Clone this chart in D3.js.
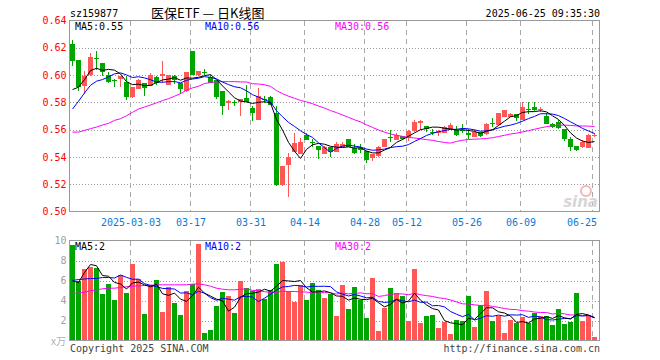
<!DOCTYPE html>
<html><head><meta charset="utf-8">
<script src="https://cdn.jsdelivr.net/npm/d3@7/dist/d3.min.js"></script>
<style>
body{margin:0;background:#fff;}
svg{display:block;}
</style></head><body>
<svg id="c" width="660" height="360"></svg>
<script>
// ---------- data ----------
const dates = [
"2025-02-17","2025-02-18","2025-02-19","2025-02-20","2025-02-21","2025-02-24","2025-02-25","2025-02-26","2025-02-27","2025-02-28",
"2025-03-03","2025-03-04","2025-03-05","2025-03-06","2025-03-07","2025-03-10","2025-03-11","2025-03-12","2025-03-13","2025-03-14",
"2025-03-17","2025-03-18","2025-03-19","2025-03-20","2025-03-21","2025-03-24","2025-03-25","2025-03-26","2025-03-27","2025-03-28",
"2025-03-31","2025-04-01","2025-04-02","2025-04-03","2025-04-07","2025-04-08","2025-04-09","2025-04-10","2025-04-11","2025-04-14",
"2025-04-15","2025-04-16","2025-04-17","2025-04-18","2025-04-21","2025-04-22","2025-04-23","2025-04-24","2025-04-25","2025-04-28",
"2025-04-29","2025-04-30","2025-05-06","2025-05-07","2025-05-08","2025-05-09","2025-05-12","2025-05-13","2025-05-14","2025-05-15",
"2025-05-16","2025-05-19","2025-05-20","2025-05-21","2025-05-22","2025-05-23","2025-05-26","2025-05-27","2025-05-28","2025-05-29",
"2025-05-30","2025-06-03","2025-06-04","2025-06-05","2025-06-06","2025-06-09","2025-06-10","2025-06-11","2025-06-12","2025-06-13",
"2025-06-16","2025-06-17","2025-06-18","2025-06-19","2025-06-20","2025-06-23","2025-06-24","2025-06-25"];

const open = [
0.623,0.611,0.592,0.600,0.6125,0.609,0.600,0.5963,0.597,0.595,
0.584,0.590,0.594,0.592,0.5987,0.5992,0.593,0.5992,0.5943,0.5886,
0.6173,0.600,0.6022,0.5984,0.5967,0.5886,0.5795,0.5805,0.5803,0.5832,
0.5759,0.5668,0.5828,0.5837,0.5722,0.5195,0.5342,0.5435,0.5423,0.5560,
0.5510,0.5482,0.5425,0.5473,0.5436,0.5472,0.5533,0.5465,0.5465,0.5445,
0.5391,0.5404,0.5475,0.5547,0.5526,0.5555,0.5540,0.5587,0.5649,0.5627,
0.5582,0.5575,0.5578,0.5608,0.5600,0.5600,0.5573,0.5548,0.5585,0.5565,
0.5651,0.5635,0.5695,0.5694,0.5715,0.5672,0.5750,0.5767,0.5747,0.5699,
0.5641,0.5656,0.5603,0.5530,0.5481,0.5474,0.5464,0.5558];
const high = [
0.626,0.611,0.603,0.616,0.618,0.609,0.602,0.597,0.5995,0.5995,
0.591,0.597,0.594,0.6016,0.5992,0.610,0.6004,0.5997,0.5943,0.6024,
0.618,0.6028,0.6048,0.5997,0.5967,0.5886,0.582,0.582,0.5827,0.5925,
0.5776,0.5906,0.5849,0.5849,0.5776,0.5337,0.5428,0.5578,0.5536,0.5575,
0.5528,0.5482,0.5477,0.5473,0.5509,0.5506,0.5533,0.5494,0.5497,0.5445,
0.5423,0.5482,0.5533,0.5595,0.5573,0.5555,0.5600,0.5673,0.5673,0.5627,
0.5608,0.5600,0.5630,0.5648,0.5629,0.5641,0.5602,0.5597,0.5585,0.5646,
0.5683,0.5720,0.5743,0.5720,0.5715,0.5800,0.5806,0.5806,0.5765,0.5719,
0.5651,0.5670,0.5603,0.5547,0.5481,0.5524,0.5565,0.5573];
const low = [
0.607,0.588,0.586,0.599,0.604,0.599,0.594,0.591,0.591,0.582,
0.583,0.590,0.585,0.592,0.5928,0.5943,0.593,0.5938,0.5864,0.5876,
0.600,0.5992,0.6004,0.594,0.5825,0.571,0.5747,0.5771,0.5698,0.580,
0.5661,0.5668,0.5796,0.578,0.519,0.519,0.5109,0.5435,0.5423,0.5521,
0.5475,0.5384,0.5420,0.5397,0.5433,0.5470,0.5470,0.5423,0.5428,0.5359,
0.5367,0.5400,0.5472,0.5509,0.5522,0.5522,0.5516,0.5580,0.5600,0.5580,
0.5561,0.5550,0.5575,0.5606,0.5552,0.5573,0.5529,0.5548,0.5548,0.5560,
0.5617,0.5635,0.5695,0.5694,0.5666,0.5672,0.5712,0.5740,0.5730,0.5643,
0.5609,0.5602,0.5519,0.5446,0.5445,0.5463,0.5464,0.5543];
const close = [
0.610,0.591,0.599,0.613,0.612,0.602,0.595,0.596,0.599,0.584,
0.591,0.5967,0.5906,0.5997,0.5943,0.601,0.5997,0.5962,0.590,0.6024,
0.6004,0.6028,0.602,0.5943,0.5837,0.5776,0.5808,0.5803,0.5827,0.580,
0.5722,0.5849,0.5826,0.578,0.5195,0.5337,0.5396,0.5503,0.5512,0.5526,
0.5508,0.5448,0.5472,0.5436,0.5494,0.5494,0.5472,0.5428,0.5450,0.5374,
0.5423,0.5472,0.5533,0.5545,0.5560,0.5528,0.5591,0.5658,0.5661,0.5603,
0.5580,0.5588,0.5618,0.5636,0.5559,0.5597,0.5560,0.5585,0.5555,0.5643,
0.5649,0.5720,0.5743,0.5718,0.5684,0.5765,0.5748,0.5746,0.5749,0.5643,
0.5623,0.5611,0.5530,0.5476,0.5453,0.5512,0.5561,0.5560];
// volume, 万
const volume = [
9.57,6.0,7.17,7.37,7.27,4.67,5.67,4.07,6.57,4.77,
7.67,6.13,2.67,5.57,6.1,2.87,5.37,3.77,2.57,4.97,
5.67,9.67,0.8,1.07,3.47,4.87,4.47,2.77,6.0,5.3,
5.0,5.17,4.17,5.07,7.67,7.9,4.97,3.87,5.57,4.07,
5.77,5.07,4.3,4.67,2.47,5.57,3.17,5.37,4.03,2.27,
6.27,0.97,3.27,5.27,4.77,4.47,1.97,7.17,1.77,2.47,
2.57,1.27,1.87,0.67,2.07,1.97,4.47,1.37,3.57,4.97,
1.97,2.47,0.77,2.07,1.77,2.37,1.77,2.77,2.47,2.47,
1.57,3.17,1.67,1.87,4.77,1.97,2.47,0.37];
// moving-average values at the start of the window (they depend on earlier days)
const ma5Head  = [0.5894,0.5911,0.5967,0.6033];
const ma10Head = [0.5751,0.5808,0.5869,0.5925,0.5955,0.5967,0.5987,0.6009,0.6016];
const ma30Head = [0.5582,0.5582,0.5595,0.5607,0.5619,0.5634,0.5646,0.5668,0.5680,0.5702,
                  0.5727,0.5751,0.5766,0.5781,0.5796,0.5813,0.5827,0.5845,0.5864,0.5889,
                  0.5906,0.5918,0.5938,0.5945,0.5950,0.5952,0.5952,0.5952,0.5950];
const vma5Head  = [5.95,5.8,6.8,7.6];
const vma10Head = [6.0,6.1,6.15,6.2,6.2,6.3,6.3,6.25,6.55];
const vma30Head = [4.73,4.73,4.83,4.97,5.07,5.17,5.23,5.23,5.3,5.37,
                   5.43,5.47,5.5,5.53,5.57,5.57,5.57,5.57,5.57,5.57,
                   5.63,5.67,5.57,5.43,5.23,5.13,5.07,5.07,5.13];
const priceTicks = [0.50,0.52,0.54,0.56,0.58,0.60,0.62,0.64];
const volTicks = [2,4,6,8,10];
const tickDates  = ["2025-03-03","2025-03-17","2025-03-31","2025-04-14","2025-04-28","2025-05-12","2025-05-26","2025-06-09","2025-06-25"];
const tickLabels = ["2025-03-03","03-17","03-31","04-14","04-28","05-12","05-26","06-09","06-25"];

// ---------- helpers ----------
function movingAvg(vals, n, head){
  return vals.map((v,i)=> i < head.length ? head[i] : d3.mean(vals.slice(i-n+1, i+1)));
}
const ma5 = movingAvg(close,5,ma5Head), ma10 = movingAvg(close,10,ma10Head), ma30 = movingAvg(close,30,ma30Head);
const vma5 = movingAvg(volume,5,vma5Head), vma10 = movingAvg(volume,10,vma10Head), vma30 = movingAvg(volume,30,vma30Head);

const svg = d3.select("#c");
const MONO = "'DejaVu Sans Mono', monospace";
const L=69.5, R=599.5, PT=20.5, PB=211.5, VT=240.5, VB=340.5;
const RED="#ff5656", GREEN="#00a600", GRID="#a8a8a8";
const x = d3.scalePoint().domain(dates).range([72.5, 594.5]);
const yP = d3.scaleLinear().domain([0.50,0.64]).range([PB, PT]);
const yV = d3.scaleLinear().domain([0,10]).range([VB, VT]);
const gxPos = d => Math.floor(x(d)) - 1.5;

// ---------- grids ----------
const grid = svg.append("g").attr("shape-rendering","crispEdges").attr("fill","none");
grid.selectAll(".hp").data(priceTicks.filter(v=>v>0.505 && v<0.635)).join("line")
  .attr("x1",L).attr("x2",R).attr("y1",d=>Math.round(yP(d))+0.5).attr("y2",d=>Math.round(yP(d))+0.5)
  .attr("stroke","#999").attr("stroke-dasharray","1,2");
grid.selectAll(".hv").data(volTicks.filter(v=>v<10)).join("line")
  .attr("x1",L).attr("x2",R).attr("y1",d=>Math.round(yV(d))+0.5).attr("y2",d=>Math.round(yV(d))+0.5)
  .attr("stroke","#999").attr("stroke-dasharray","1,2");
[[PT,PB],[VT,VB]].forEach(([t,b])=>{
  grid.append("g").selectAll("line").data(tickDates).join("line")
    .attr("x1",gxPos).attr("x2",gxPos).attr("y1",t).attr("y2",b)
    .attr("stroke",GRID).attr("stroke-dasharray","5,4");
});

// watermark
const wm = svg.append("g");
wm.append("circle").attr("cx",586).attr("cy",191).attr("r",5).attr("fill","none").attr("stroke","#f2b8b8").attr("stroke-width",2);
wm.append("text").attr("x",598).attr("y",207).attr("text-anchor","end")
  .attr("font-family","'DejaVu Sans', sans-serif").attr("font-style","italic").attr("font-weight","bold")
  .attr("font-size",15).attr("fill","#d6d6d6").text("sina");

// ---------- candles ----------
const cg = svg.append("g").attr("shape-rendering","crispEdges");
const idx = d3.range(dates.length);
const col = i => close[i] >= open[i] ? RED : GREEN;
cg.selectAll(".wick").data(idx).join("line")
  .attr("x1",i=>x(dates[i])).attr("x2",i=>x(dates[i]))
  .attr("y1",i=>yP(high[i])).attr("y2",i=>yP(low[i]))
  .attr("stroke",col);
cg.selectAll(".body").data(idx).join("rect")
  .attr("x",i=>x(dates[i])-2.5).attr("width",5)
  .attr("y",i=>yP(Math.max(open[i],close[i])))
  .attr("height",i=>Math.max(1, yP(Math.min(open[i],close[i])) - yP(Math.max(open[i],close[i]))))
  .attr("fill",col);

// ---------- volume bars ----------
const vg = svg.append("g").attr("shape-rendering","crispEdges");
vg.selectAll("rect").data(idx).join("rect")
  .attr("x",i=>x(dates[i])-2.5).attr("width",5)
  .attr("y",i=>yV(volume[i])).attr("height",i=>VB - yV(volume[i]))
  .attr("fill",col);

// ---------- MA lines ----------
function drawLine(vals, yS, color){
  const ln = d3.line().x((d,i)=>x(dates[i])).y(d=>yS(d));
  svg.append("path").datum(vals).attr("d",ln).attr("fill","none")
    .attr("stroke",color).attr("stroke-width",1);
}
drawLine(ma30, yP, "#ff00ff"); drawLine(ma10, yP, "#0000ff"); drawLine(ma5, yP, "#000000");
drawLine(vma30, yV, "#ff00ff"); drawLine(vma10, yV, "#0000ff"); drawLine(vma5, yV, "#000000");

// ---------- frames ----------
const fr = svg.append("g").attr("shape-rendering","crispEdges").attr("fill","none").attr("stroke","#999");
fr.append("rect").attr("x",L).attr("y",PT).attr("width",R-L).attr("height",PB-PT);
fr.append("rect").attr("x",L).attr("y",VT).attr("width",R-L).attr("height",VB-VT);

// ---------- axes ----------
const axP = svg.append("g").attr("transform",`translate(${L},0)`)
  .call(d3.axisLeft(yP).tickValues(priceTicks).tickFormat(d3.format(".2f")).tickSize(0).tickPadding(3));
axP.select(".domain").remove();
axP.attr("font-family",MONO).attr("font-size",10);
axP.selectAll("text").attr("fill","#ff0000");

const axV = svg.append("g").attr("transform",`translate(${L},0)`)
  .call(d3.axisLeft(yV).tickValues(volTicks).tickFormat(d3.format("d")).tickSize(0).tickPadding(3));
axV.select(".domain").remove();
axV.attr("font-family",MONO).attr("font-size",10);
axV.selectAll("text").attr("fill","#a0a0a0");

const axX = svg.append("g").attr("transform",`translate(-2,${PB})`)
  .call(d3.axisBottom(x).tickValues(tickDates).tickFormat((d,i)=>tickLabels[i]).tickSize(0).tickPadding(7));
axX.select(".domain").remove();
axX.attr("font-family",MONO).attr("font-size",10);
axX.selectAll("text").attr("fill","#0a7ad6");
axX.selectAll(".tick").filter(d=>d===tickDates[tickDates.length-1])
  .select("text").attr("text-anchor","end").attr("x",597 - (x(tickDates[tickDates.length-1]) + 0.5 - 2));

// ---------- texts ----------
const t = (xx,yy,s,fill,anchor,font,size) => svg.append("text").attr("x",xx).attr("y",yy)
  .attr("text-anchor",anchor||"start").attr("font-family",font||MONO).attr("font-size",size||10)
  .attr("fill",fill||"#000").text(s);
t(70,17,"sz159877","#000");
t(151,18,"医保ETF — 日K线图","#000","start","'Noto Sans CJK SC', sans-serif",13);
t(600,17,"2025-06-25 09:35:30","#000","end");
const f2 = d3.format(".2f"), f0 = d3.format(".0f");
const last = dates.length-1;
t(75,30,"MA5:"+f2(ma5[last]),"#000");
t(205,30,"MA10:"+f2(ma10[last]),"#0000ff");
t(335,30,"MA30:"+f2(ma30[last]),"#ff00ff");
t(75,250,"MA5:"+f0(vma5[last]),"#000");
t(205,250,"MA10:"+f0(vma10[last]),"#0000ff");
t(335,250,"MA30:"+f0(vma30[last]),"#ff00ff");
t(66,345,"x万","#b0b0b0","end","'Noto Sans CJK SC', sans-serif",10);
t(70,352,"Copyright 2025 SINA.COM","#444");
t(600,352,"http://finance.sina.com.cn","#444","end");
</script>
</body></html>
